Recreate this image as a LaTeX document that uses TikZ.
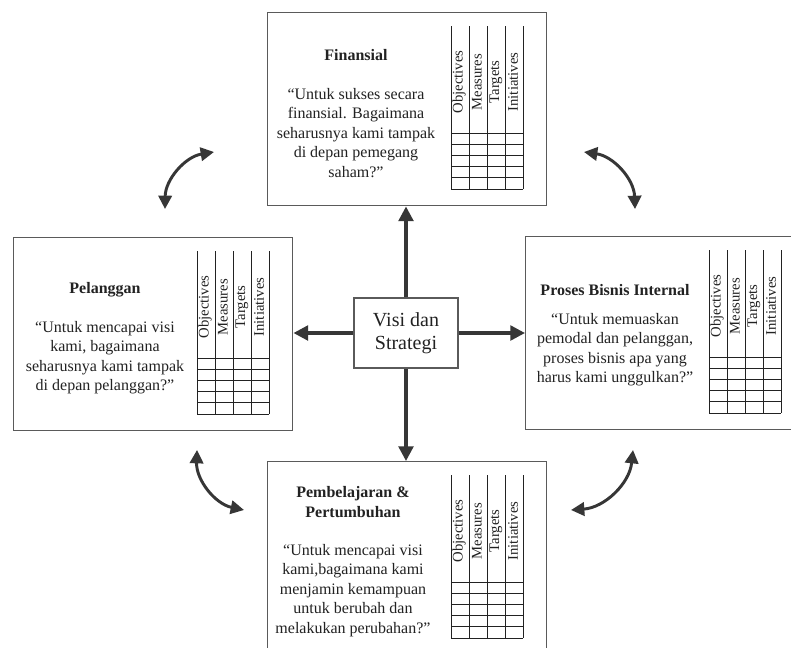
\documentclass[tikz,border=0pt]{standalone}
\usepackage{fontspec}
\setmainfont{Liberation Serif}
\usetikzlibrary{arrows.meta}
\definecolor{ink}{HTML}{222222}
\definecolor{arrowc}{HTML}{363636}
\definecolor{boxc}{HTML}{5A5A5A}
\newcommand\bscgrid[3]{%
  \begin{scope}[shift={(#1,#2)}]
    \foreach \c in {184,202,220,238,256} \draw[gridline] (\c,14) -- (\c,177);
    \foreach \r in {0,...,5} \draw[gridline] (184,121+\r*11.2) -- (256,121+\r*11.2);
    \node[collabel] (#3obj) at (192,70) {Objectives};
    \node[collabel] (#3mea) at (210,70) {Measures};
    \node[collabel] (#3tar) at (229,70) {Targets};
    \node[collabel] (#3ini) at (246,70) {Initiatives};
  \end{scope}}
\begin{document}
\begin{tikzpicture}[x=0.75pt,y=-0.75pt,
  panel/.style={draw=boxc, line width=1.1pt, anchor=north west, minimum width=209.25pt, minimum height=144.75pt, inner sep=0pt},
  gridline/.style={draw=ink, line width=0.75pt},
  collabel/.style={rotate=90, font=\fontsize{11}{11}\selectfont, inner sep=0pt, text=ink},
  ttl/.style={font=\bfseries\fontsize{12}{15}\selectfont, align=center, text=ink, inner sep=0pt},
  qte/.style={font=\fontsize{12}{14.6}\selectfont, align=center, anchor=north, text=ink, inner sep=0pt},
  arr/.style={draw=arrowc, line width=2.5pt, -{Triangle[length=11pt,width=11pt]}},
  carr/.style={draw=arrowc, line width=2.2pt, {Triangle[length=10pt,width=10pt]}-{Triangle[length=10pt,width=10pt]}},
]
\useasboundingbox (0,0) rectangle (791,647);
\clip (0,0) rectangle (791,647);
\fill[white] (0,0) rectangle (791,647);

% panels
\node[panel] (fin) at (267,12) {};
\node[panel] (pel) at (13,237) {};
\node[panel] (pro) at (525,236) {};
\node[panel] (pem) at (267,461) {};

% grids
\bscgrid{267}{12}{fin}
\bscgrid{13}{237}{pel}
\bscgrid{525}{236}{pro}
\bscgrid{267}{461}{pem}

% Finansial
\node[ttl] (fint) at (356,55) {Finansial};
\node[qte] (finq) at (356,88) {“Untuk sukses secara\\finansial. Bagaimana\\seharusnya kami tampak\\di depan pemegang\\saham?”};

% Pelanggan
\node[ttl] (pelt) at (105,290) {Pelanggan};
\node[qte] (pelq) at (105,321) {“Untuk mencapai visi\\kami, bagaimana\\seharusnya kami tampak\\di depan pelanggan?”};

% Proses Bisnis Internal
\node[ttl] (prot) at (615,290) {Proses Bisnis Internal};
\node[qte] (proq) at (615,313) {“Untuk memuaskan\\pemodal dan pelanggan,\\proses bisnis apa yang\\harus kami unggulkan?”};

% Pembelajaran
\node[ttl] (pemt) at (353,502) {Pembelajaran \&\\Pertumbuhan};
\node[qte] (pemq) at (353,544) {“Untuk mencapai visi\\kami,bagaimana kami\\menjamin kemampuan\\untuk berubah dan\\melakukan perubahan?”};

% centre
\node[draw=boxc, line width=1.1pt, minimum width=78pt, minimum height=52.5pt, align=center, font=\fontsize{15}{17}\selectfont, text=ink, inner sep=0pt] (vis) at (406,333) {Visi dan\\Strategi};

% straight arrows
\draw[arr] (vis.north) -- (vis.north |- fin.south);
\draw[arr] (vis.west) -- (vis.west -| pel.east);
\draw[arr] (vis.east) -- (vis.east -| pro.west);
\draw[arr] (vis.south) -- (vis.south |- pem.north);

% curved arrows
\coordinate (tla) at (165,209);
\coordinate (tlb) at (214,152);
\coordinate (tra) at (584,152);
\coordinate (trb) at (635,209);
\coordinate (bla) at (197,450);
\coordinate (blb) at (244,510);
\coordinate (bra) at (571,510);
\coordinate (brb) at (633,450);
\draw[carr] (tla) to[bend left=40] (tlb);
\draw[carr] (tra) to[bend left=40] (trb);
\draw[carr] (bla) to[bend right=40] (blb);
\draw[carr] (bra) to[bend right=40] (brb);
\end{tikzpicture}
\end{document}
